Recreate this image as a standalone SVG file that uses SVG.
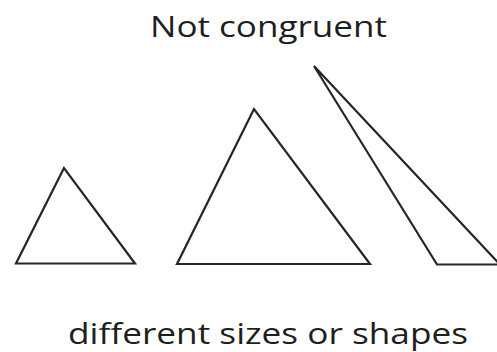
<svg xmlns="http://www.w3.org/2000/svg" width="497" height="352" viewBox="0 0 497 352">
<style>
.tri{fill:none;stroke:#262626;stroke-width:2.2;stroke-linejoin:miter}
.lbl{font-family:"Open Sans","Noto Sans",sans-serif;font-size:30px;font-weight:500;fill:#1e1e1e}
</style>
<rect width="497" height="352" fill="#fff"/>
<g id="small-triangle"><polygon class="tri" points="64,168 16,263.5 135,263.5"/></g>
<g id="medium-triangle"><polygon class="tri" points="254,109 177,264 370,264"/></g>
<g id="obtuse-triangle"><polygon class="tri" points="314,66 437,264.5 500,264.5"/></g>
<g id="title"><text class="lbl" x="150" y="37" textLength="237" lengthAdjust="spacingAndGlyphs">Not congruent</text></g>
<g id="caption"><text class="lbl" x="68" y="344" font-size="29" textLength="400" lengthAdjust="spacingAndGlyphs">different sizes or shapes</text></g>
</svg>
